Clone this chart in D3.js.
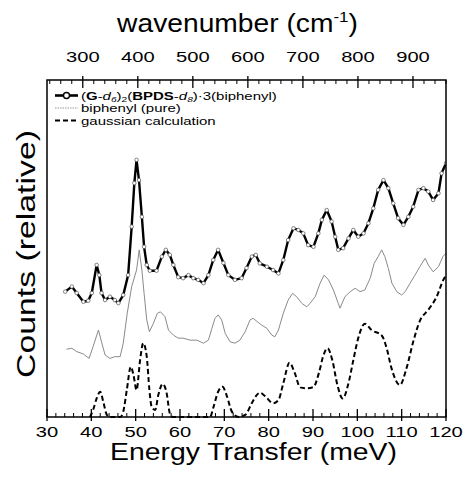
<!DOCTYPE html>
<html><head><meta charset="utf-8">
<script src="https://cdn.jsdelivr.net/npm/d3@7"></script>
<style>
body{margin:0;background:#fff}
svg{display:block}
text{font-family:"Liberation Sans",Arial,sans-serif;fill:#000}
</style>
</head><body>
<svg id="c" width="466" height="479"></svg>
<script>
// ---- data ----
const energyTicks = [30,40,50,60,70,80,90,100,110,120];
const wavenumberTicks = [300,400,500,600,700,800,900];

const sampleE = [34.1,35.6,36.7,38.2,39.3,40.1,41.2,41.8,42.3,43.1,44.2,45.3,46.1,47.2,48.3,49.1,49.7,50.2,50.75,51.4,51.9,52.5,53.2,54.7,55.9,56.8,57.7,58.5,59.6,60.7,61.9,63.0,64.1,65.3,66.4,67.5,68.6,69.8,70.9,72.4,73.9,75.0,76.2,77.1,78.0,79.6,81.0,82.2,83.3,84.4,85.6,86.7,87.8,88.9,90.1,91.2,92.0,93.1,94.2,95.0,95.7,96.8,98.0,99.1,100.2,101.4,102.5,103.6,104.7,105.9,107.0,108.1,109.2,110.4,111.5,112.6,113.8,114.9,116.0,117.1,118.3,119.0,120];
const sampleCounts = [37.2,38.7,36.8,34.2,34.5,36.8,45.1,42.1,36.8,34.7,35.7,34.7,33.8,36.2,42.1,56.5,69.4,76.3,70.3,59.4,50.5,45.1,43.4,43.4,47.6,49.6,48.1,45.1,41.5,41.2,42.1,41.2,40.7,39.7,42.1,46.6,49.6,45.7,42.1,40.7,41.2,44.2,47.6,48.1,45.6,44.6,43.6,42.6,46.6,52.5,56.0,55.5,54.5,51.0,50.5,54.5,58.5,61.4,58.0,53.5,49.6,50.1,53.0,55.5,53.5,54.5,57.5,61.9,67.4,70.3,67.9,63.4,59.0,57.0,59.4,62.4,67.4,67.9,66.9,64.4,66.4,72.3,75.3];

const pureE = [34.4,35.6,36.7,38.2,39.5,40.4,41.6,42.3,43.1,44.2,45.3,46.5,47.2,48.1,49.1,50.2,50.8,51.4,51.9,52.5,53.1,54.0,54.9,55.6,56.6,57.4,58.5,59.6,60.7,62.3,63.8,65.3,66.4,67.2,67.9,68.6,69.4,70.2,71.3,72.4,73.5,74.7,75.8,76.5,77.4,78.4,79.6,80.7,81.4,82.2,83.3,84.4,85.4,86.3,87.5,88.6,89.3,90.5,91.6,92.5,93.5,94.6,95.7,96.1,97.2,98.4,99.5,100.6,101.7,102.9,103.8,104.7,105.5,106.2,107.0,107.8,108.9,110.0,110.8,111.9,113.0,114.1,115.3,116.0,117.1,118.3,119.3,120];
const pureCounts = [20.1,20.4,19.4,18.7,17.4,20.9,25.8,22.3,18.4,17.4,17.9,17.9,21.9,30.8,38.7,43.6,49.6,43.6,36.7,28.8,25.3,27.8,30.8,31.2,29.8,25.8,24.3,23.4,23.4,22.8,22.8,21.9,22.8,26.3,29.3,30.3,28.8,24.8,22.3,21.9,22.8,25.3,28.8,29.3,28.3,27.3,26.3,24.3,23.8,25.8,30.8,34.7,36.7,35.7,33.7,32.7,33.7,35.7,39.7,42.1,40.7,37.7,33.7,32.3,35.7,37.2,38.2,37.2,37.7,41.2,45.6,47.6,49.6,47.6,44.1,39.7,37.2,36.2,37.2,39.7,42.1,44.6,47.1,45.1,43.1,44.6,47.6,48.6];

const gaussE = [39.7,40.4,41.2,42.0,42.7,43.5,44.2,46.5,47.2,48.0,48.9,49.5,50.2,51.0,51.7,52.5,53.1,53.6,54.4,55.1,56.1,57.0,57.7,58.4,66.8,67.5,68.6,69.6,70.5,71.7,73.2,74.7,76.2,77.3,78.0,79.2,81.0,82.2,83.3,84.7,85.9,87.1,88.6,90.1,91.4,92.3,93.3,94.4,95.5,96.7,98.0,99.1,100.2,101.7,103.2,105.5,106.6,107.7,109.6,111.1,112.6,114.1,116.0,117.9,119.4,120];
const gaussCounts = [0,2.1,5.5,7.5,4.5,0.6,0,0,1.6,8.0,14.9,12.5,8.0,16.9,21.9,17.9,8.0,3.1,2.1,6.5,9.8,7.0,1.1,0,0,2.7,7.5,9.0,6.5,1.6,0,0.6,4.1,6.5,7.2,6.2,4.1,5.0,10.0,16.1,13.0,8.8,8.5,8.9,13.4,18.1,20.4,16.6,9.5,5.5,10.0,16.9,23.4,27.7,25.8,24.2,20.5,14.5,9.5,14.5,22.3,28.5,31.8,35.7,40.7,42.1];

// ---- layout ----
const svg = d3.select("#c");
const M = {left:47, right:446, top:80, bottom:417};
const x = d3.scaleLinear().domain([30,120]).range([M.left, M.right]);
const xTop = d3.scaleLinear().domain([235,960]).range([M.left, M.right]);
const y = d3.scaleLinear().domain([0,100]).range([M.bottom, M.top]);

svg.append("defs").append("clipPath").attr("id","clip")
  .append("rect").attr("x",M.left).attr("y",M.top-2).attr("width",M.right-M.left).attr("height",M.bottom-M.top+4);

const zip = (a,b) => a.map((v,i)=>[v,b[i]]);
const sample = zip(sampleE, sampleCounts);
const pure = zip(pureE, pureCounts);
const gauss = zip(gaussE, gaussCounts);

const plot = svg.append("g").attr("clip-path","url(#clip)");
const lineLin = d3.line().x(d=>x(d[0])).y(d=>y(d[1]));
const lineSmooth = d3.line().x(d=>x(d[0])).y(d=>y(d[1])).curve(d3.curveMonotoneX);

plot.append("path").datum(gauss).attr("d", lineSmooth)
  .attr("fill","none").attr("stroke","#000").attr("stroke-width",2).attr("stroke-dasharray","5,3");

plot.append("path").datum(pure).attr("d", lineLin)
  .attr("fill","none").attr("stroke","#8a8a8a").attr("stroke-width",1);

plot.append("path").datum(sample).attr("d", lineLin)
  .attr("fill","none").attr("stroke","#000").attr("stroke-width",2.4).attr("stroke-linejoin","round");
plot.selectAll("circle.s").data(sample).join("circle").attr("class","s")
  .attr("cx",d=>x(d[0])).attr("cy",d=>y(d[1])).attr("r",1.8)
  .attr("fill","#fff").attr("stroke","#555").attr("stroke-width",0.7);

// ---- frame ----
svg.append("rect").attr("x",M.left).attr("y",M.top).attr("width",M.right-M.left).attr("height",M.bottom-M.top)
  .attr("fill","none").attr("stroke","#000").attr("stroke-width",1.5);

// ---- bottom axis ----
const gB = svg.append("g");
const minorE = d3.range(30,121,2).filter(v=>v%10!==0);
gB.selectAll("line.maj").data(energyTicks).join("line")
  .attr("x1",d=>x(d)).attr("x2",d=>x(d)).attr("y1",M.bottom+4).attr("y2",M.bottom-8)
  .attr("stroke","#000").attr("stroke-width",1.3);
gB.selectAll("line.min").data(minorE).join("line")
  .attr("x1",d=>x(d)).attr("x2",d=>x(d)).attr("y1",M.bottom).attr("y2",M.bottom-4)
  .attr("stroke","#000").attr("stroke-width",1);
gB.selectAll("text").data(energyTicks).join("text")
  .attr("font-size",15.5).attr("text-anchor","middle")
  .attr("transform",d=>`translate(${x(d)},436.5) scale(1.3,1)`)
  .text(d=>d);

// ---- top axis ----
const gT = svg.append("g");
const minorW = d3.range(240,961,20).filter(v=>v%100!==0);
gT.selectAll("line.maj").data(wavenumberTicks).join("line")
  .attr("x1",d=>xTop(d)).attr("x2",d=>xTop(d)).attr("y1",M.top-4).attr("y2",M.top+8)
  .attr("stroke","#000").attr("stroke-width",1.3);
gT.selectAll("line.min").data(minorW).join("line")
  .attr("x1",d=>xTop(d)).attr("x2",d=>xTop(d)).attr("y1",M.top).attr("y2",M.top+4)
  .attr("stroke","#000").attr("stroke-width",1);
gT.selectAll("text").data(wavenumberTicks).join("text")
  .attr("font-size",15.5).attr("text-anchor","middle")
  .attr("transform",d=>`translate(${xTop(d)},61.5) scale(1.3,1)`)
  .text(d=>d);

// ---- titles ----
function fit(sel, w){ return w / sel.node().getComputedTextLength(); }

const tt = svg.append("text").attr("font-size",25).attr("text-anchor","middle");
tt.append("tspan").text("wavenumber (cm");
tt.append("tspan").attr("font-size",15).attr("dy",-10).text("-1");
tt.append("tspan").attr("dy",10).text(")");
tt.attr("transform",`translate(237.5,32) scale(${fit(tt,241)},1)`);

const bt = svg.append("text").attr("font-size",23.5).attr("text-anchor","middle").text("Energy Transfer (meV)");
bt.attr("transform",`translate(253.5,460) scale(${fit(bt,287)},1)`);

const yt = svg.append("text").attr("font-size",26).attr("text-anchor","middle").text("Counts (relative)");
yt.attr("transform",`translate(35,254) rotate(-90) scale(${fit(yt,248)},1)`);

// ---- legend ----
const lg = svg.append("g");
const rowY = [95.5, 108, 120.5];
const sx0 = 55, sx1 = 78, tx = 81;
lg.append("line").attr("x1",sx0).attr("x2",sx1).attr("y1",rowY[0]).attr("y2",rowY[0]).attr("stroke","#000").attr("stroke-width",2.6);
lg.append("circle").attr("cx",(sx0+sx1)/2).attr("cy",rowY[0]).attr("r",3).attr("fill","#fff").attr("stroke","#000").attr("stroke-width",1.4);
lg.append("line").attr("x1",sx0).attr("x2",sx1).attr("y1",rowY[1]).attr("y2",rowY[1]).attr("stroke","#999").attr("stroke-width",1).attr("stroke-dasharray","1.5,1");
lg.append("line").attr("x1",sx0).attr("x2",sx1).attr("y1",rowY[2]).attr("y2",rowY[2]).attr("stroke","#000").attr("stroke-width",2).attr("stroke-dasharray","5,3");

const t1 = lg.append("text").attr("font-size",11).attr("transform",`translate(${tx},${rowY[0]+4}) scale(1.36,1)`);
t1.append("tspan").text("(");
t1.append("tspan").attr("font-weight","bold").text("G");
t1.append("tspan").text("-");
t1.append("tspan").attr("font-style","italic").text("d");
t1.append("tspan").attr("font-style","italic").attr("font-size",7.5).attr("dy",2).text("6");
t1.append("tspan").attr("dy",-2).text(")");
t1.append("tspan").attr("font-size",7.5).attr("dy",2).text("2");
t1.append("tspan").attr("dy",-2).text("(");
t1.append("tspan").attr("font-weight","bold").text("BPDS");
t1.append("tspan").text("-");
t1.append("tspan").attr("font-style","italic").text("d");
t1.append("tspan").attr("font-style","italic").attr("font-size",7.5).attr("dy",2).text("8");
t1.append("tspan").attr("dy",-2).text(")\u00B73(biphenyl)");

lg.append("text").attr("font-size",11).attr("transform",`translate(${tx},${rowY[1]+4}) scale(1.36,1)`).text("biphenyl (pure)");
lg.append("text").attr("font-size",11).attr("transform",`translate(${tx},${rowY[2]+4}) scale(1.36,1)`).text("gaussian calculation");
</script>
</body></html>
